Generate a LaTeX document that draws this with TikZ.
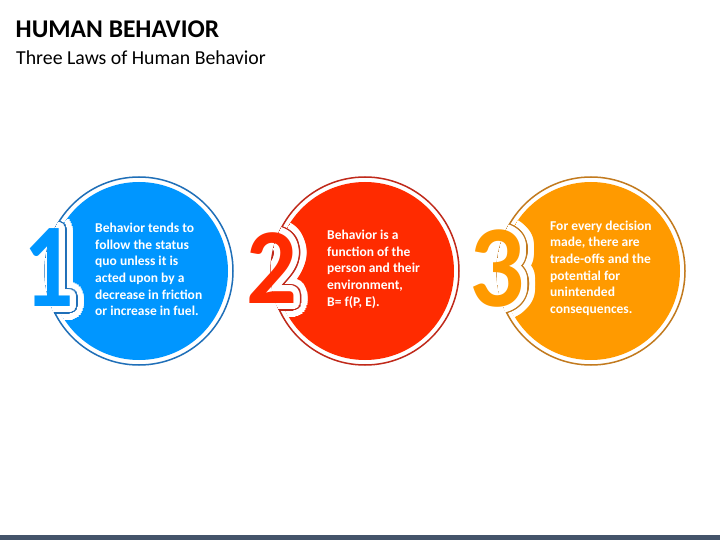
\documentclass[tikz,border=0pt]{standalone}
\usepackage{fontspec}
\usepackage{graphicx}
\setmainfont{Carlito}
\usetikzlibrary{calc}
\definecolor{cblue}{HTML}{0096FF}
\definecolor{cblued}{HTML}{1F6FB8}
\definecolor{cred}{HTML}{FF2B00}
\definecolor{credd}{HTML}{C0291A}
\definecolor{corange}{HTML}{FF9A00}
\definecolor{coranged}{HTML}{C27A1E}
\definecolor{barcol}{HTML}{44546A}
\tikzset{
  glyph/.style={inner sep=0pt, anchor=base},
  ringline/.style={line width=1.5pt, fill=white},
  bodytext/.style={inner sep=0pt, anchor=base west, text=white,
    font=\bfseries\fontsize{13.5}{16.7}\selectfont},
}
% #1 position, #2 font size, #3 digit, #4 colour, #5 radius
\newcommand\myhalo[5]{%
  \foreach \hA in {0,10,...,350}{%
    \node[glyph, font=\bfseries\fontsize{#2}{#2}\selectfont, text=#4] at ($(#1)+(\hA:#5)$) {#3};
    \node[glyph, font=\bfseries\fontsize{#2}{#2}\selectfont, text=#4] at ($(#1)+(\hA:#5/2)$) {#3};
  }%
  \node[glyph, font=\bfseries\fontsize{#2}{#2}\selectfont, text=#4] at (#1) {#3};
}
% #1 centre, #2 number pos, #3 font size, #4 digit, #5 colour, #6 dark colour, #7 name, #8 cut x
\newcommand\lawcircle[8]{%
  \draw[ringline, draw=#6] (#1) circle (94);
  \fill[#5] (#1) circle (89);
  \begin{scope}
    \clip (#1) circle (89);
    \myhalo{#2}{#3}{#4}{white}{14}
  \end{scope}
  \begin{scope}
    \clip (#1) circle (94.75);
    \begin{scope}
      \clip (#8,0) rectangle (720,540);
      \myhalo{#2}{#3}{#4}{#6}{7.5}
    \end{scope}
    \myhalo{#2}{#3}{#4}{white}{6}
    \begin{scope}
      \clip (0,0) rectangle (#8,540);
      \myhalo{#2}{#3}{#4}{white}{14}
    \end{scope}
  \end{scope}
  \node[glyph, font=\bfseries\fontsize{#3}{#3}\selectfont, text=#5] (#7) at (#2) {#4};
}
\begin{document}
\begin{tikzpicture}[x=1pt, y=-1pt]
  \useasboundingbox (0,0) rectangle (720,540);
  \fill[white] (0,0) rectangle (720,540);
  \fill[barcol] (0,535) rectangle (720,540);

  \node[inner sep=0pt, anchor=base west, font=\bfseries\fontsize{25.5}{30}\selectfont] (title) at (15.5,37.3) {HUMAN BEHAVIOR};
  \node[inner sep=0pt, anchor=base west, font=\fontsize{19.8}{23}\selectfont] (subtitle) at (16,65) {Three Laws of Human Behavior};

  \coordinate (c1) at (139,271);
  \coordinate (c2) at (365,271);
  \coordinate (c3) at (591,271);
  \coordinate (n1) at (49,306.5);
  \coordinate (n2) at (272,303.5);
  \coordinate (n3) at (497.5,306.5);

  \lawcircle{c1}{n1}{120}{\scalebox{0.83}[1]{1}}{cblue}{cblued}{num1}{0}
  \lawcircle{c2}{n2}{108}{\scalebox{0.93}[1]{2}}{cred}{credd}{num2}{0}
  \lawcircle{c3}{n3}{117}{\scalebox{0.93}[1]{3}}{corange}{coranged}{num3}{503}

  \node[bodytext] (t1) at (95,232.3) {\begin{tabular}[t]{@{}l@{}}Behavior tends to\\ follow the status\\ quo unless it is\\ acted upon by a\\ decrease in friction\\ or increase in fuel.\end{tabular}};
  \node[bodytext] (t2) at (327,239.5) {\begin{tabular}[t]{@{}l@{}}Behavior is a\\ function of the\\ person and their\\ environment,\\ B= f(P, E).\end{tabular}};
  \node[bodytext] (t3) at (550,230) {\begin{tabular}[t]{@{}l@{}}For every decision\\ made, there are\\ trade-offs and the\\ potential for\\ unintended\\ consequences.\end{tabular}};
\end{tikzpicture}
\end{document}
